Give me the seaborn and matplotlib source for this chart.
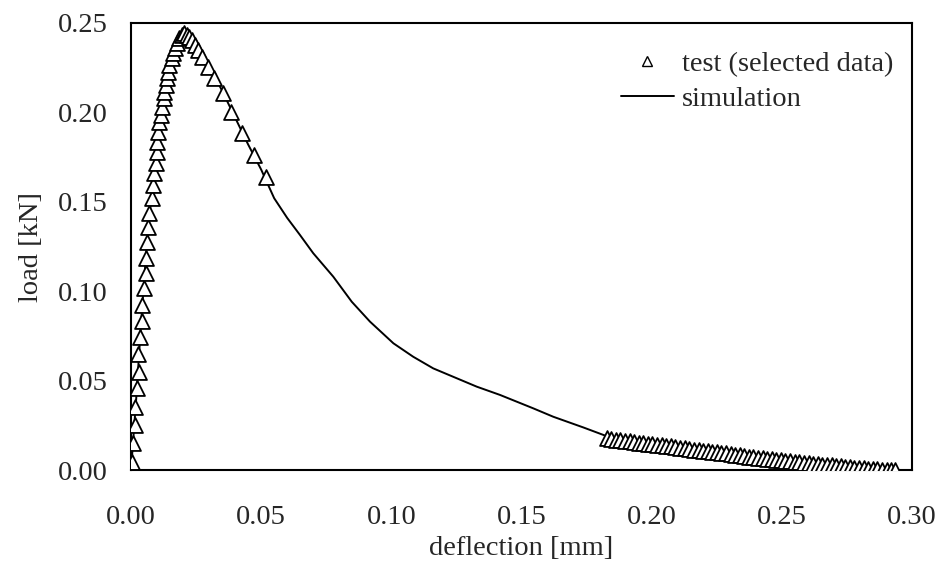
import matplotlib
matplotlib.use("Agg")
import matplotlib.pyplot as plt
from matplotlib.lines import Line2D
import seaborn as sns
import pandas as pd

# ---- data ----
test_x_head = [0.0003, 0.0009, 0.0015, 0.0015, 0.0022, 0.0031, 0.0028, 0.0035, 0.0041, 0.0041,
               0.0050, 0.0056, 0.0056, 0.0063, 0.0066, 0.0069, 0.0080, 0.0086, 0.0090, 0.0095,
               0.0099, 0.0101, 0.0105, 0.0109, 0.0114, 0.0120, 0.0127, 0.0128, 0.0133, 0.0137,
               0.0143, 0.0147, 0.0156, 0.0163, 0.0169, 0.0176, 0.0184, 0.0195, 0.0205, 0.0214,
               0.0223, 0.0233, 0.0246, 0.0259, 0.0274, 0.0295, 0.0320, 0.0355, 0.0384, 0.0425,
               0.0474, 0.0519]
test_y_head = [0.0049, 0.0152, 0.0254, 0.0356, 0.0459, 0.0552, 0.0650, 0.0747, 0.0836, 0.0924,
               0.1017, 0.1101, 0.1188, 0.1277, 0.1361, 0.1436, 0.1520, 0.1594, 0.1659, 0.1715,
               0.1780, 0.1836, 0.1891, 0.1947, 0.1985, 0.2031, 0.2078, 0.2115, 0.2152, 0.2190,
               0.2227, 0.2264, 0.2301, 0.2329, 0.2357, 0.2385, 0.2413, 0.2431, 0.2441, 0.2431,
               0.2422, 0.2403, 0.2375, 0.2348, 0.2310, 0.2254, 0.2190, 0.2106, 0.2003, 0.1886,
               0.1761, 0.1640]
test_x_tail = [0.1827, 0.1845, 0.1862, 0.1880, 0.1898, 0.1915, 0.1933, 0.1950, 0.1968, 0.1986,
               0.2003, 0.2021, 0.2039, 0.2056, 0.2074, 0.2091, 0.2109, 0.2127, 0.2144, 0.2162,
               0.2180, 0.2197, 0.2215, 0.2232, 0.2250, 0.2268, 0.2285, 0.2303, 0.2321, 0.2338,
               0.2356, 0.2373, 0.2391, 0.2409, 0.2426, 0.2444, 0.2462, 0.2479, 0.2497, 0.2514,
               0.2532, 0.2550, 0.2567, 0.2585, 0.2603, 0.2620, 0.2638, 0.2655, 0.2673, 0.2691,
               0.2708, 0.2726, 0.2744, 0.2761, 0.2779, 0.2796, 0.2814, 0.2832, 0.2849, 0.2867,
               0.2885, 0.2902, 0.2920, 0.2935]
test_y_tail = [0.0180, 0.0178, 0.0172, 0.0170, 0.0166, 0.0163, 0.0160, 0.0155, 0.0153, 0.0150,
               0.0146, 0.0143, 0.0140, 0.0136, 0.0134, 0.0130, 0.0127, 0.0123, 0.0121, 0.0117,
               0.0114, 0.0111, 0.0108, 0.0104, 0.0101, 0.0097, 0.0095, 0.0091, 0.0088, 0.0084,
               0.0081, 0.0078, 0.0075, 0.0071, 0.0069, 0.0065, 0.0062, 0.0060, 0.0057, 0.0054,
               0.0051, 0.0048, 0.0046, 0.0043, 0.0040, 0.0038, 0.0035, 0.0033, 0.0030, 0.0028,
               0.0025, 0.0023, 0.0021, 0.0018, 0.0016, 0.0014, 0.0012, 0.0010, 0.0008, 0.0007,
               0.0005, 0.0003, 0.0002, 0.0000]

sim_x = [0.0, 0.002, 0.004, 0.006, 0.008, 0.010, 0.012, 0.014, 0.016, 0.018, 0.0205,
         0.023, 0.026, 0.030, 0.035, 0.040, 0.045, 0.050, 0.055, 0.060, 0.0649, 0.0700,
         0.0777, 0.0848, 0.0918, 0.1008, 0.1084, 0.1161, 0.1251, 0.1328, 0.1417, 0.1545,
         0.1622, 0.1738, 0.1830, 0.2000, 0.2200, 0.2500, 0.2700, 0.2935]
sim_y = [0.0, 0.040, 0.085, 0.125, 0.155, 0.180, 0.203, 0.221, 0.233, 0.240, 0.2445,
         0.2425, 0.236, 0.226, 0.212, 0.197, 0.182, 0.168, 0.152, 0.141, 0.1315, 0.1213,
         0.1082, 0.0942, 0.0831, 0.0710, 0.0635, 0.0570, 0.0515, 0.0468, 0.0422, 0.0347,
         0.0300, 0.0240, 0.0190, 0.0150, 0.0113, 0.0057, 0.0028, 0.0000]

x_ticks = [0.00, 0.05, 0.10, 0.15, 0.20, 0.25, 0.30]
y_ticks = [0.00, 0.05, 0.10, 0.15, 0.20, 0.25]

test_df = pd.DataFrame({"x": test_x_head + test_x_tail, "y": test_y_head + test_y_tail})
sim_df = pd.DataFrame({"x": sim_x, "y": sim_y})

# ---- style ----
sns.set_style("white")
plt.rcParams["font.family"] = ["Liberation Serif", "DejaVu Serif"]
FS = 20.5

fig = plt.figure(figsize=(9.41, 5.70), dpi=100)
ax = fig.add_axes([0.1392, 0.1746, 0.8300, 0.7856])

sns.lineplot(data=sim_df, x="x", y="y", sort=False, color="black", linewidth=1.4,
             ax=ax, zorder=2, legend=False)
sns.scatterplot(data=test_df, x="x", y="y", marker="^", s=115, facecolor="white",
                edgecolor="black", linewidth=1.3, ax=ax, zorder=3, legend=False)

ax.set_xlim(0, 0.30)
ax.set_ylim(0, 0.25)
ax.set_xticks(x_ticks)
ax.set_yticks(y_ticks)
ax.set_xticklabels([f"{v:.2f}" for v in x_ticks], fontsize=FS)
ax.set_yticklabels([f"{v:.2f}" for v in y_ticks], fontsize=FS)
ax.tick_params(axis="x", direction="out", length=6.5, width=1.0, color="#555555", pad=18)
ax.tick_params(axis="y", direction="in", length=8, width=1.4, color="black", pad=17)
ax.set_xlabel("deflection [mm]", fontsize=FS, labelpad=5)
ax.set_ylabel("load [kN]", fontsize=FS, labelpad=10)

for sp in ax.spines.values():
    sp.set_visible(True)
    sp.set_color("black")
    sp.set_linewidth(1.5)

handles = [
    Line2D([], [], linestyle="none", marker="^", markersize=7, markerfacecolor="white",
           markeredgecolor="black", markeredgewidth=1.0),
    Line2D([], [], color="black", linewidth=1.4),
]
ax.legend(handles, ["test (selected data)", "simulation"], loc="upper right",
          bbox_to_anchor=(0.991, 0.962), frameon=False, fontsize=FS,
          handlelength=1.85, handletextpad=0.3, labelspacing=0.32, borderaxespad=0.0)

fig.savefig("out.png", dpi=100)
